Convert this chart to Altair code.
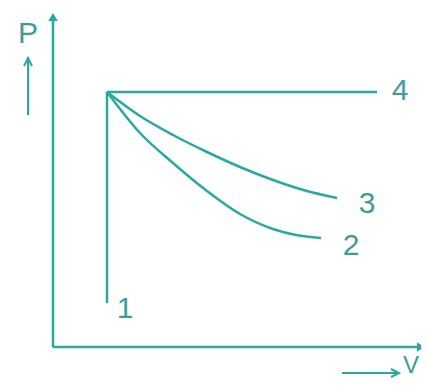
import altair as alt
import pandas as pd

TEAL = "#2aa9a2"

# Process curves from common start state (V, P) in arbitrary units
curve3_v = [54, 87, 120, 154, 187, 220, 254, 284]
curve3_p = [255, 231, 212, 195, 180, 167, 156, 149]
curve2_v = [54, 87, 120, 154, 187, 220, 243, 268]
curve2_p = [255, 214, 184, 156, 133, 118, 112, 109]
line4_v = [54, 324]
line4_p = [255, 255]
line1_v = [54, 54]
line1_p = [255, 44]

# Axes (origin at 0,0)
xaxis_v = [0, 368]
xaxis_p = [0, 0]
yaxis_v = [0, 0]
yaxis_p = [0, 330]

# Labels
label_text = ["4", "3", "2", "1", "P"]
label_v = [347, 314, 298, 72, -25]
label_p = [256, 143, 101, 38, 313]
vlabel_text = ["V"]
vlabel_v = [358]
vlabel_p = [-19]

# Small direction arrows beside axis names
parrow_v = [-25, -25]
parrow_p = [232, 289]
parrow_head_v = [-29, -25, -21]
parrow_head_p = [281, 289, 281]
varrow_v = [289, 346]
varrow_p = [-26, -26]
varrow_head_v = [338, 346, 338]
varrow_head_p = [-22, -26, -30]

def seg(name, vs, ps):
    return pd.DataFrame({"V": vs, "P": ps, "id": name, "o": list(range(len(vs)))})

xs = alt.Scale(domain=[-45, 368], nice=False, zero=False)
ys = alt.Scale(domain=[-35, 339], nice=False, zero=False)
X = alt.X("V:Q", scale=xs, axis=None)
Y = alt.Y("P:Q", scale=ys, axis=None)

curves = pd.concat([
    seg("c3", curve3_v, curve3_p),
    seg("c2", curve2_v, curve2_p),
])
straight = pd.concat([
    seg("l4", line4_v, line4_p),
    seg("l1", line1_v, line1_p),
    seg("xa", xaxis_v, xaxis_p),
    seg("ya", yaxis_v, yaxis_p),
])
small = pd.concat([
    seg("pa", parrow_v, parrow_p),
    seg("pah", parrow_head_v, parrow_head_p),
    seg("va", varrow_v, varrow_p),
    seg("vah", varrow_head_v, varrow_head_p),
])

curve_layer = alt.Chart(curves).mark_line(
    color=TEAL, strokeWidth=2.5, interpolate="monotone"
).encode(x=X, y=Y, detail="id:N", order="o:Q")

straight_layer = alt.Chart(straight).mark_line(
    color=TEAL, strokeWidth=2.5
).encode(x=X, y=Y, detail="id:N", order="o:Q")

small_layer = alt.Chart(small).mark_line(
    color=TEAL, strokeWidth=2
).encode(x=X, y=Y, detail="id:N", order="o:Q")

heads = pd.DataFrame({
    "V": [yaxis_v[1], xaxis_v[1]],
    "P": [yaxis_p[1], xaxis_p[1]],
    "shape": ["triangle-up", "triangle-right"],
})
head_layer = alt.Chart(heads).mark_point(
    filled=True, color=TEAL, size=90, opacity=1
).encode(x=X, y=Y, shape=alt.Shape("shape:N", scale=None))

labels = pd.DataFrame({"V": label_v, "P": label_p, "t": label_text})
text_layer = alt.Chart(labels).mark_text(
    color="#3a9e99", fontSize=30, font="Liberation Sans",
    align="center", baseline="middle"
).encode(x=X, y=Y, text="t:N")

vlabel = pd.DataFrame({"V": vlabel_v, "P": vlabel_p, "t": vlabel_text})
vtext_layer = alt.Chart(vlabel).mark_text(
    color="#3a9e99", fontSize=24, font="Liberation Sans",
    align="center", baseline="middle"
).encode(x=X, y=Y, text="t:N")

chart = alt.layer(
    curve_layer, straight_layer, small_layer, head_layer, text_layer, vtext_layer
).properties(
    width=413, height=374, padding=0, background="white",
    autosize=alt.AutoSizeParams(type="none")
).configure_view(stroke=None)

chart.save("out.html", embed_options={"renderer": "svg", "actions": False})
